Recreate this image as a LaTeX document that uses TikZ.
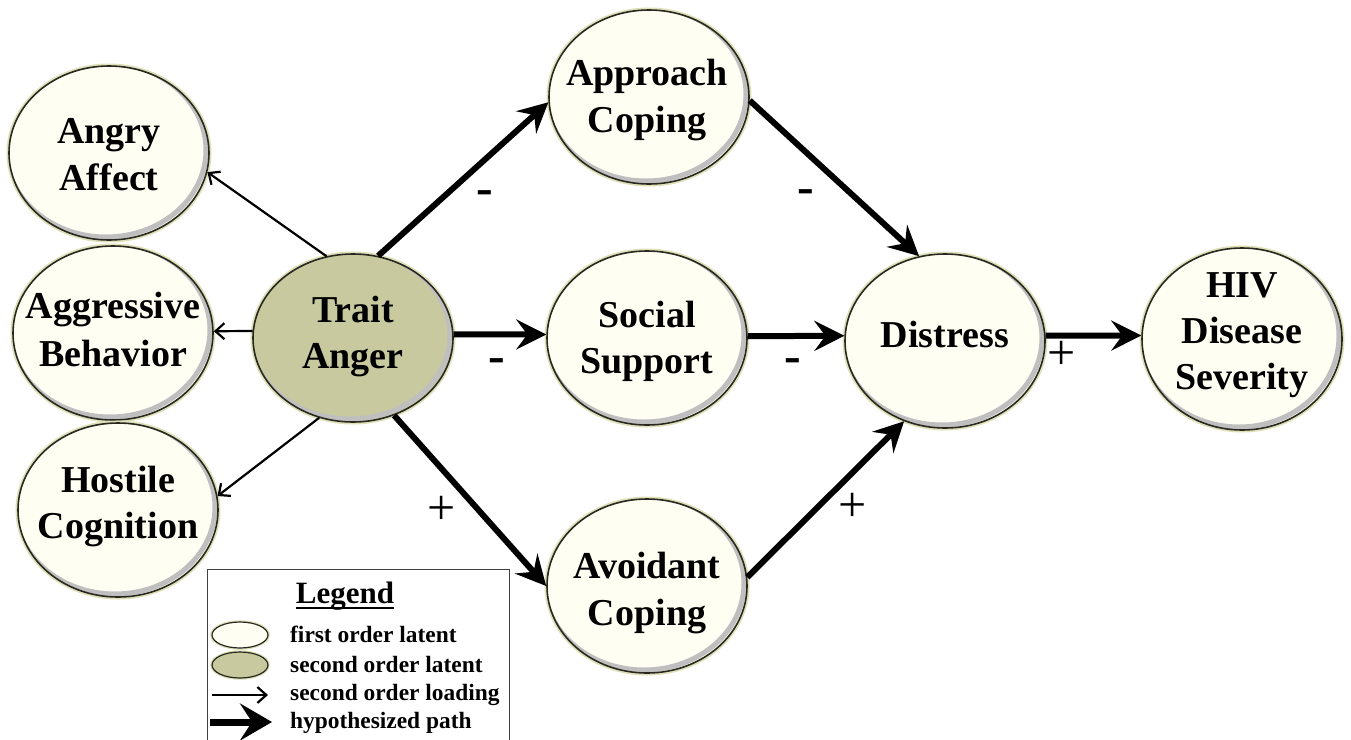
\documentclass[tikz,border=0pt]{standalone}
\usepackage{fontspec}
\setmainfont{Liberation Serif}
\usetikzlibrary{arrows.meta,shapes.geometric}
\definecolor{cream}{RGB}{254,254,242}
\definecolor{olivefill}{RGB}{200,201,158}
\definecolor{glow}{RGB}{222,224,184}
\definecolor{rim}{RGB}{40,40,32}
\tikzset{
  ellsize/.style 2 args={minimum width=#1, minimum height=#2,
    path picture={\draw[black!25, line width=5pt]
      ([shift={(-3pt,3pt)}]path picture bounding box.center)
      ellipse [x radius=0.5*#1, y radius=0.5*#2];}},
  latent/.style={ellipse, inner sep=0pt, draw=rim, line width=1.6pt, fill=cream,
    preaction={draw=glow, line width=5pt}, ellsize={200pt}{174pt}},
  second/.style={latent, fill=olivefill},
  lab/.style={font=\fontsize{38}{46}\selectfont\bfseries, anchor=base, inner sep=0pt},
  sign/.style={font=\fontsize{50}{56}\selectfont, inner sep=0pt},
  bsign/.style={font=\fontsize{50}{56}\selectfont\bfseries, inner sep=0pt},
  load/.style={line width=2.2pt, -{Straight Barb[length=9pt, width=16pt]}},
  hyp/.style={line width=6pt, -{Stealth[length=30pt, width=30pt, inset=11pt]}},
  leghyp/.style={line width=7pt, -{Stealth[length=32pt, width=37pt, inset=12pt]}},
  leglab/.style={font=\fontsize{23.4}{28}\selectfont\bfseries, anchor=base west, inner sep=0pt},
  legell/.style={ellipse, minimum width=56pt, minimum height=26pt, inner sep=0pt,
    draw=rim, line width=1.2pt, fill=cream, preaction={draw=glow, line width=3.5pt}},
}
\begin{document}
\begin{tikzpicture}[x=1pt,y=-1pt]
\fill[white] (0,0) rectangle (1351,739);
\useasboundingbox (0,0) rectangle (1351,739);

% ellipses
\node[latent] (AA) at (109,153) {};
\node[latent] (AB) at (113,333) {};
\node[latent] (HC) at (118,510) {};
\node[second, ellsize={200pt}{168pt}] (TA) at (353,338) {};
\node[latent] (AC) at (649,97) {};
\node[latent] (SS) at (647,338) {};
\node[latent] (AV) at (647,586) {};
\node[latent] (DI) at (945,341) {};
\node[latent, ellsize={200pt}{182pt}] (HIV) at (1242,339) {};

% texts
\node[lab] (AA1) at (109,143) {Angry};
\node[lab] (AA2) at (109,190) {Affect};
\node[lab] (AB1) at (113,318) {Aggressive};
\node[lab] (AB2) at (113,366) {Behavior};
\node[lab] (HC1) at (118,492) {Hostile};
\node[lab] (HC2) at (118,538) {Cognition};
\node[lab] (TA1) at (353,322) {Trait};
\node[lab] (TA2) at (353,368) {Anger};
\node[lab] (AC1) at (647,85) {Approach};
\node[lab] (AC2) at (647,132) {Coping};
\node[lab] (SS1) at (647,327) {Social};
\node[lab] (SS2) at (647,373) {Support};
\node[lab] (AV1) at (647,578) {Avoidant};
\node[lab] (AV2) at (647,625) {Coping};
\node[lab] (DI1) at (945,347) {Distress};
\node[lab] (HIV1) at (1242,297) {HIV};
\node[lab] (HIV2) at (1242,343) {Disease};
\node[lab] (HIV3) at (1242,389) {Severity};

% second order loadings
\draw[load] (TA.108) -- (AA.349);
\draw[load] (TA.176) -- (AB.1);
\draw[load] (TA.247) -- (HC.8);

% hypothesized paths
\draw[hyp] (TA.73) -- (AC.183);
\draw[hyp] (TA.2) -- (SS.178);
\draw[hyp] (TA.298) -- (AV.180);
\draw[hyp] (AC.358) -- (DI.107);
\draw[hyp] (SS.1) -- (DI.177);
\draw[hyp] (AV.5) -- (DI.243);
\draw[hyp] (DI.3) -- (HIV.178);

% signs
\node[bsign] (s1) at (485,198) {-};
\node[bsign] (s2) at (497,366) {-};
\node[sign] (s3) at (442,510) {+};
\node[bsign] (s4) at (806,197) {-};
\node[bsign] (s5) at (793,366) {-};
\node[sign] (s6) at (853,507) {+};
\node[sign] (s7) at (1062,355) {+};

% legend
\node[draw=black!75, line width=0.9pt, fill=white, anchor=north west,
      minimum width=302pt, minimum height=190pt, inner sep=0pt] (legend) at (207,569) {};
\node[font=\fontsize{31}{36}\selectfont\bfseries, anchor=base, inner sep=0pt] (legt) at (345,603) {Legend};
\draw[line width=2.2pt] ([yshift=-5pt]legt.base west) -- ([yshift=-5pt]legt.base east);
\node[legell] (leg1) at (240,635) {};
\node[legell, fill=olivefill] (leg2) at (240,665) {};
\coordinate (l3a) at (212,695);
\coordinate (l3b) at (268,695);
\draw[load] (l3a) -- (l3b);
\coordinate (l4a) at (210,722);
\coordinate (l4b) at (272,722);
\draw[leghyp] (l4a) -- (l4b);
\node[leglab] (t1) at (290,642) {first order latent};
\node[leglab] (t2) at (290,672) {second order latent};
\node[leglab] (t3) at (290,700) {second order loading};
\node[leglab] (t4) at (290,728) {hypothesized path};
\end{tikzpicture}
\end{document}
